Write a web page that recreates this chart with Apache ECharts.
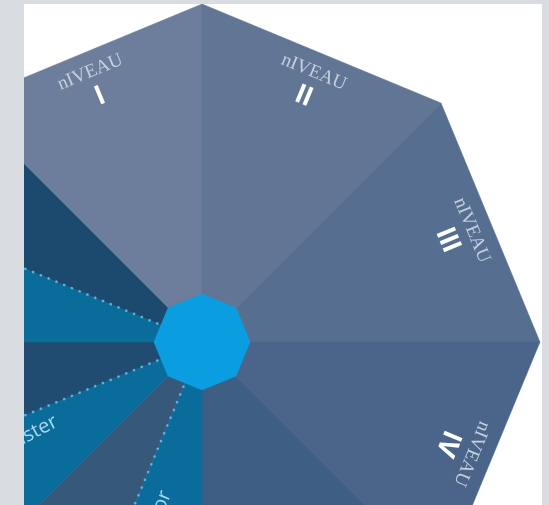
<!DOCTYPE html>
<html>
<head>
<meta charset="utf-8">
<script src="https://cdn.jsdelivr.net/npm/echarts@6/dist/echarts.min.js"></script>
<style>
  html, body { margin: 0; padding: 0; background: #d9dde2; }
  #chart { position: absolute; left: 24px; top: 4px; width: 518px; height: 501px; background: #ffffff; }
</style>
</head>
<body>
<div id="chart"></div>
<script>
// sectors of the octagon, degrees counter-clockwise from east
const sectorFrom = [90, 45, 0, 315, 270, 247.5, 225, 202.5, 180, 157.5, 135];
const sectorTo = [135, 90, 45, 360, 315, 270, 247.5, 225, 202.5, 180, 157.5];
const sectorColors = ['#6c7e9c', '#617695', '#566f90', '#4a6589', '#3f5e84', '#0a6c9b',
  '#35587b', '#0a6c9b', '#214c71', '#0a6c9b', '#1b4a6e'];
const levelNumerals = ['I', 'II', 'III', 'IV', '', '', '', '', '', '', ''];
const degreeLabels = ['', '', '', '', '', 'Bachelor', '', 'Master', '', '', ''];
const levelWord = 'nIVEAU';
const dottedAngles = [157.5, 202.5, 247.5];
const hubRadius = 0.143;

const RAD = Math.PI / 180;

// distance from centre to the octagon outline (vertex radius = 1)
const edgeRadius = (deg) => {
  const k = Math.floor(deg / 45 + 1e-9);
  const mid = k * 45 + 22.5;
  return Math.cos(22.5 * RAD) / Math.cos((deg - mid) * RAD);
};

// where the degree names sit: [radius of text end, angle, rotation]
const degreePlace = {
  Master: [0.49, 208.3, 28],
  Bachelor: [0.455, 256.5, 68]
};

const chart = echarts.init(document.getElementById('chart'));

const renderSector = (params, api) => {
  const i = params.dataIndex;
  const from = api.value(0);
  const to = api.value(1);
  const pts = [api.coord([0, 0]), api.coord([edgeRadius(from), from])];
  for (let v = Math.floor(from / 45 + 1) * 45; v < to; v += 45) {
    pts.push(api.coord([1, v]));
  }
  pts.push(api.coord([edgeRadius(to), to]));
  const children = [{
    type: 'polygon',
    shape: { points: pts },
    style: { fill: sectorColors[i], stroke: sectorColors[i], lineWidth: 0.5 }
  }];

  const mid = (from + to) / 2;
  if (levelNumerals[i]) {
    const pWord = api.coord([0.864, mid]);
    const pNum = api.coord([0.784, mid]);
    children.push({
      type: 'text', x: pWord[0], y: pWord[1], rotation: (mid - 90) * RAD,
      style: {
        text: levelWord, fill: '#c6cfdc', font: '19px "Liberation Serif"',
        align: 'center', verticalAlign: 'middle'
      }
    });
    children.push({
      type: 'text', x: pNum[0], y: pNum[1], rotation: (mid - 90) * RAD,
      style: {
        text: levelNumerals[i], fill: '#ffffff', font: 'bold 27px Roboto',
        align: 'center', verticalAlign: 'middle'
      }
    });
  }
  if (degreeLabels[i]) {
    const place = degreePlace[degreeLabels[i]];
    const p = api.coord([place[0], place[1]]);
    children.push({
      type: 'text', x: p[0], y: p[1], rotation: place[2] * RAD,
      style: {
        text: degreeLabels[i], fill: '#a9d6ee', font: '20px "Open Sans"',
        align: 'right', verticalAlign: 'middle'
      }
    });
  }
  return { type: 'group', children };
};

const renderDots = (params, api) => {
  const a = api.value(0);
  const p0 = api.coord([hubRadius, a]);
  const p1 = api.coord([edgeRadius(a), a]);
  return {
    type: 'line',
    shape: { x1: p0[0], y1: p0[1], x2: p1[0], y2: p1[1] },
    style: { stroke: '#52b6e6', lineWidth: 2.6, lineDash: [0.1, 8.3], lineCap: 'round' }
  };
};

const renderHub = (params, api) => {
  const r = api.value(0);
  const pts = [];
  for (let k = 0; k < 8; k++) pts.push(api.coord([r, k * 45]));
  return { type: 'polygon', shape: { points: pts }, style: { fill: '#0a9de0' } };
};

chart.setOption({
  animation: false,
  polar: { center: [178, 338], radius: 338 },
  angleAxis: {
    type: 'value', min: 0, max: 360, startAngle: 0, clockwise: false, show: false
  },
  radiusAxis: { type: 'value', min: 0, max: 1, show: false },
  series: [
    {
      type: 'custom', coordinateSystem: 'polar', renderItem: renderSector,
      data: sectorFrom.map((f, i) => [f, sectorTo[i]]), z: 1
    },
    {
      type: 'custom', coordinateSystem: 'polar', renderItem: renderDots,
      data: dottedAngles.map((a) => [a]), z: 2
    },
    {
      type: 'custom', coordinateSystem: 'polar', renderItem: renderHub,
      data: [[hubRadius]], z: 3
    }
  ]
});
</script>
</body>
</html>
